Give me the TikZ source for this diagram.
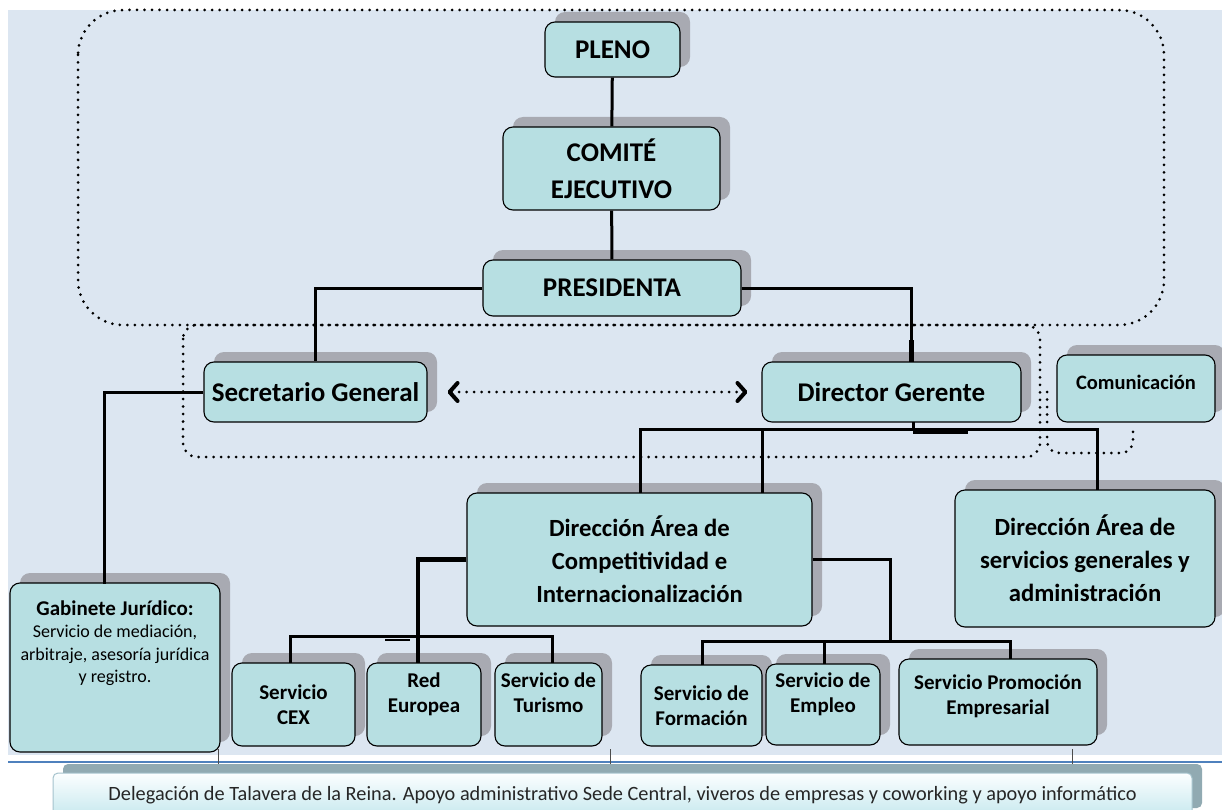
\documentclass[tikz,border=0pt]{standalone}
\usepackage{fontspec}
\setmainfont{Carlito}
\usetikzlibrary{arrows.meta,shadows}
\definecolor{fondo}{RGB}{220,230,241}
\definecolor{cajaazul}{RGB}{183,223,226}
\definecolor{grissombra}{RGB}{168,170,178}
\definecolor{lineaazul}{RGB}{79,129,189}
\definecolor{barraborde}{RGB}{165,195,205}
\definecolor{barrasombra}{RGB}{145,170,178}
\definecolor{barraclaro}{RGB}{252,254,255}
\definecolor{barraoscuro}{RGB}{198,232,238}

\begin{document}
\begin{tikzpicture}[x=1pt,y=-1pt]
\tikzset{caja/.style={draw=black, line width=1.1pt, fill=cajaazul, rounded corners=10pt, align=center, inner sep=0pt,
    general shadow={fill=grissombra, shadow xshift=10pt, shadow yshift=10pt}}}
\tikzset{grande/.style={font=\bfseries\fontsize{27}{37}\selectfont}}
\tikzset{media/.style={font=\bfseries\fontsize{24.7}{33}\selectfont}}
\tikzset{chica/.style={font=\bfseries\fontsize{21}{25}\selectfont}}
\tikzset{conector/.style={line width=3pt}}
\tikzset{punteado/.style={line width=3pt, line cap=round, dash pattern=on 0pt off 7.5pt}}
\tikzset{barra/.style={draw=barraborde, line width=1pt, rounded corners=5pt, top color=barraclaro, bottom color=barraoscuro,
    general shadow={fill=barrasombra, shadow xshift=10pt, shadow yshift=9pt}, text=black!85, font=\fontsize{20.3}{22}\selectfont}}
\clip (0,0) rectangle (1222,810);
\fill[white] (0,0) rectangle (1222,810);
\fill[fondo] (8,10) rectangle (1222,755);
% organos de gobierno
\node[caja, grande, minimum width=135pt, minimum height=55pt] (pleno) at (612.5,49.5) {PLENO};
\node[caja, grande, minimum width=217pt, minimum height=83pt] (comite) at (611.5,168.5) {COMITÉ\\EJECUTIVO};
\node[caja, grande, minimum width=258pt, minimum height=56pt] (presidenta) at (612,288) {PRESIDENTA};
\node[caja, grande, minimum width=223pt, minimum height=60pt] (secretario) at (315.5,392) {Secretario General};
\node[caja, grande, minimum width=259pt, minimum height=60pt] (director) at (891.5,392) {Director Gerente};
\node[caja, minimum width=158pt, minimum height=67pt] (comunicacion) at (1136,388.5) {};
\node[chica, font=\bfseries\fontsize{20.5}{24}\selectfont] (comunicaciontxt) at (1136,382) {Comunicación};
% areas
\node[caja, media, minimum width=345pt, minimum height=133pt] (dircomp) at (639.5,559.5) {Dirección Área de\\Competitividad e\\Internacionalización};
\node[caja, media, minimum width=260pt, minimum height=137pt] (dirserv) at (1085,558.5) {Dirección Área de\\servicios generales y\\administración};
\node[caja, minimum width=210pt, minimum height=169pt] (gabinete) at (115,667.5) {};
\node[anchor=north, align=center, font=\fontsize{18}{22.5}\selectfont] (gabinetetxt) at (115,597) {{\bfseries\fontsize{21}{24}\selectfont Gabinete Jurídico:}\\Servicio de mediación,\\arbitraje, asesoría jurídica\\y registro.};
% servicios
\node[caja, chica, minimum width=123pt, minimum height=83pt] (cex) at (293.5,704.5) {Servicio\\CEX};
\node[caja, chica, minimum width=114pt, minimum height=83pt, text depth=23pt] (red) at (424,704.5) {Red\\Europea};
\node[caja, chica, minimum width=107pt, minimum height=83pt, text depth=23pt] (turismo) at (548.5,704.5) {Servicio de\\Turismo};
\node[caja, chica, minimum width=121pt, minimum height=81pt] (formacion) at (701.5,705.5) {Servicio de\\Formación};
\node[caja, chica, minimum width=114pt, minimum height=81pt, text depth=23pt] (empleo) at (823,704.5) {Servicio de\\Empleo};
\node[caja, chica, minimum width=198pt, minimum height=86pt, text depth=15pt] (promocion) at (998,702) {Servicio Promoción\\Empresarial};
% conexiones
\coordinate (dgarriba) at (911,362);
\coordinate (dgcodo) at (911,340);
\coordinate (gjarriba) at (104,583.5);
\coordinate (dgabajo) at (913,422);
\coordinate (reparto) at (913,429);
\coordinate (refuerzo) at (968,431);
\coordinate (dcizq) at (640,493);
\coordinate (dcder) at (762,493);
\coordinate (dsarriba) at (1097,490);
\coordinate (redarriba) at (418,663);
\coordinate (ramaizq) at (418,636);
\coordinate (cexarriba) at (290,663);
\coordinate (turarriba) at (552,663);
\coordinate (marcaa) at (385,640);
\coordinate (marcab) at (410,640);
\coordinate (ramader) at (890,641);
\coordinate (forarriba) at (702,665);
\coordinate (emparriba) at (824,664);
\coordinate (proarriba) at (1010,659);
\draw[conector] (pleno) -- (comite);
\draw[conector] (comite) -- (presidenta);
\draw[conector] (presidenta.west) -| (secretario.north);
\draw[conector] (presidenta.east) -| (dgarriba);
\draw[line width=5pt] (dgcodo) -- (dgarriba);
\draw[conector] (secretario.west) -| (gjarriba);
\draw[conector] (dgabajo) -- (reparto);
\draw[conector] (dcizq) |- (reparto) -| (dsarriba);
\draw[conector] (dcder) -- (dcder |- reparto);
\draw[line width=5pt] (reparto |- refuerzo) -- (refuerzo);
\draw[line width=4.5pt] (dircomp.west) -| (redarriba);
\draw[conector] (cexarriba) |- (ramaizq) -| (turarriba);
\draw[line width=1.2pt] (marcaa) -- (marcab);
\draw[conector] (dircomp.east) -| (ramader);
\draw[conector] (forarriba) |- (ramader) -| (proarriba);
\draw[conector] (emparriba) -- (emparriba |- ramader);
% recuadros punteados
\draw[punteado, rounded corners=45pt] (78,10) rectangle (1164,325);
\draw[punteado, rounded corners=14pt] (183,325) rectangle (1040,457);
\draw[punteado, rounded corners=12pt] (1047,392) -- (1047,453) -- (1133,453) -- (1133,427);
\draw[punteado, {Straight Barb[length=8pt,width=18pt,line width=4pt,round]}-{Straight Barb[length=8pt,width=18pt,line width=4pt,round]}, shorten <=20pt, shorten >=14pt] (secretario) -- (director);
% base
\fill[white] (0,755) rectangle (1222,810);
\draw[lineaazul, line width=1.5pt] (8,762) -- (1222,762);
\draw[black!70, line width=1pt] (218,749) -- (218,765);
\draw[black!70, line width=1pt] (610,749) -- (610,765);
\draw[black!70, line width=1pt] (1072,749) -- (1072,765);
\node[barra, minimum width=1139pt, minimum height=44pt] (delegacion) at (622.5,795) {Delegación de Talavera de la Reina. Apoyo administrativo Sede Central, viveros de empresas y coworking y apoyo informático};
\end{tikzpicture}
\end{document}
